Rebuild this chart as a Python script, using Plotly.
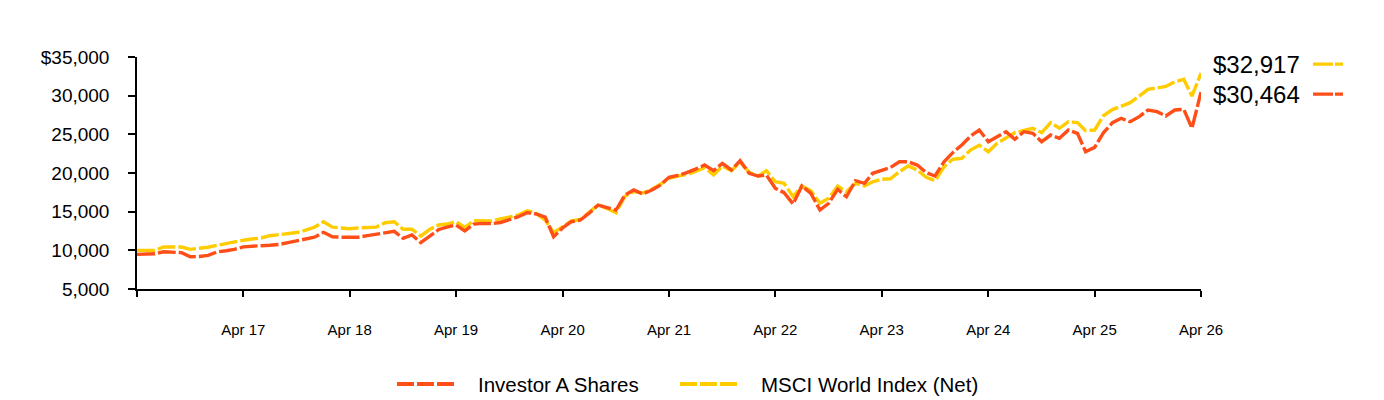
import pandas as pd
import plotly.graph_objects as go

dates = pd.date_range("2016-04-01", periods=121, freq="MS")

investor_a = [
    9475, 9500, 9550, 9820, 9750, 9700, 9180, 9200, 9350, 9800,
    9950, 10130, 10450, 10560, 10600, 10650, 10750, 11000, 11200, 11500,
    11700, 12330, 11760, 11700, 11720, 11700, 11900, 12100, 12350, 12460,
    11550, 11980, 10990, 11900, 12700, 13000, 13280, 12500, 13400, 13490,
    13450, 13600, 14000, 14350, 14870, 14700, 14300, 11760, 12900, 13700,
    13920, 14800, 15860, 15500, 15210, 17150, 17800, 17280, 17800, 18400,
    19440, 19700, 20040, 20500, 21030, 20300, 21250, 20390, 21590, 19960,
    19610, 19740, 18020, 17450, 15990, 18320, 17370, 15210, 16080, 17890,
    16930, 19000, 18660, 19960, 20300, 20700, 21460, 21460, 21030, 20040,
    19610, 21460, 22630, 23620, 24800, 25560, 24050, 24700, 25340, 24360,
    25340, 25130, 24050, 24910, 24480, 25560, 25130, 22750, 23320, 25200,
    26500, 27070, 26630, 27280, 28150, 27930, 27370, 28150, 28240, 25780,
    30464,
]

msci_world = [
    10000, 10000, 9980, 10430, 10450, 10430, 10130, 10250, 10400, 10650,
    10900, 11150, 11300, 11460, 11600, 11890, 12000, 12100, 12300, 12600,
    12980, 13700, 13000, 12890, 12800, 12900, 12980, 13000, 13570, 13700,
    12720, 12720, 11850, 12720, 13280, 13400, 13700, 12980, 13830, 13850,
    13800, 14050, 14300, 14570, 15120, 14790, 13900, 12280, 13050, 13800,
    14000, 14900, 15900, 15400, 14870, 17000, 17600, 17400, 17900, 18500,
    19300, 19600, 19800, 20200, 20700, 19740, 20900, 20300, 21400, 20100,
    19600, 20300, 18870, 18660, 16930, 18320, 17710, 16080, 16730, 18320,
    17580, 18660, 18320, 18870, 19180, 19250, 20170, 20900, 20390, 19440,
    19000, 20810, 21770, 21900, 23000, 23600, 22750, 23840, 24500, 25210,
    25500, 25780, 25210, 26510, 25780, 26630, 26510, 25470, 25560, 27400,
    28200, 28600, 29090, 29950, 30820, 31000, 31200, 31800, 32120, 29950,
    32917,
]

series_names = ["Investor A Shares", "MSCI World Index (Net)"]

tick_dates = pd.date_range("2016-04-01", "2026-04-01", freq="12MS")
tick_text = [""] + ["Apr %s" % d.strftime("%y") for d in tick_dates[1:]]
y_ticks = [5000, 10000, 15000, 20000, 25000, 30000, 35000]
y_text = ["5,000", "10,000", "15,000", "20,000", "25,000", "30,000", "$35,000"]

RED = "#FF4E17"
YEL = "#FFCC00"
FONT = "Arial, Liberation Sans, sans-serif"

L, R, T, B = 137, 183, 57, 111
W, H = 1384, 400
PW, PH = W - L - R, H - T - B


def px_x(px):
    return (px - L) / PW


def px_y(py):
    return (H - B - py) / PH


fig = go.Figure()
fig.add_trace(go.Scatter(
    x=dates, y=msci_world, mode="lines", name=series_names[1], showlegend=False,
    line=dict(color=YEL, width=3.4, dash="18px,3px"),
))
fig.add_trace(go.Scatter(
    x=dates, y=investor_a, mode="lines", name=series_names[0], showlegend=False,
    line=dict(color=RED, width=3.4, dash="18px,3px"),
))

# end labels with small dash samples
for val, col, ysh in [(msci_world[-1], YEL, 9), (investor_a[-1], RED, -2)]:
    fig.add_annotation(
        x=dates[-1], y=val, xref="x", yref="y", text="$%s" % format(val, ","),
        showarrow=False, xanchor="left", xshift=10, yshift=ysh,
        font=dict(size=24, color="black", family=FONT),
    )
    fig.add_shape(
        type="line", xref="paper", yref="y", x0=px_x(1313), x1=px_x(1343),
        ysizemode="pixel", yanchor=val, y0=ysh, y1=ysh,
        line=dict(color=col, width=3.4, dash="20px,2px"),
    )

# custom legend at the bottom
for name, col, lx in [(series_names[0], RED, 397), (series_names[1], YEL, 680)]:
    fig.add_shape(
        type="line", xref="paper", yref="paper", x0=px_x(lx), x1=px_x(lx + 60),
        y0=px_y(384), y1=px_y(384),
        line=dict(color=col, width=4, dash="17px,3px"),
    )
    fig.add_annotation(
        xref="paper", yref="paper", x=px_x(lx + 79), y=px_y(384), text=name,
        showarrow=False, xanchor="left", yanchor="middle",
        font=dict(size=20.5, color="black", family=FONT),
    )

fig.update_layout(
    width=W, height=H,
    margin=dict(l=L, r=R, t=T, b=B),
    paper_bgcolor="white", plot_bgcolor="white",
    font=dict(family=FONT, color="black"),
    showlegend=False,
    xaxis=dict(
        range=[dates[0], dates[-1]], tickvals=list(tick_dates), ticktext=tick_text,
        showgrid=False, zeroline=False, showline=True, linecolor="black", linewidth=1.5,
        ticks="outside", ticklen=6, tickcolor="black", tickwidth=1.5,
        tickfont=dict(size=15, family=FONT), ticklabelstandoff=20, automargin=False,
    ),
    yaxis=dict(
        range=[5000, 35000], tickvals=y_ticks, ticktext=y_text,
        showgrid=False, zeroline=False, showline=True, linecolor="black", linewidth=1.5,
        ticks="outside", ticklen=7, tickcolor="black", tickwidth=1.5,
        tickfont=dict(size=19, family=FONT), ticklabelstandoff=15, automargin=False,
    ),
)

fig.write_html("out.html")
